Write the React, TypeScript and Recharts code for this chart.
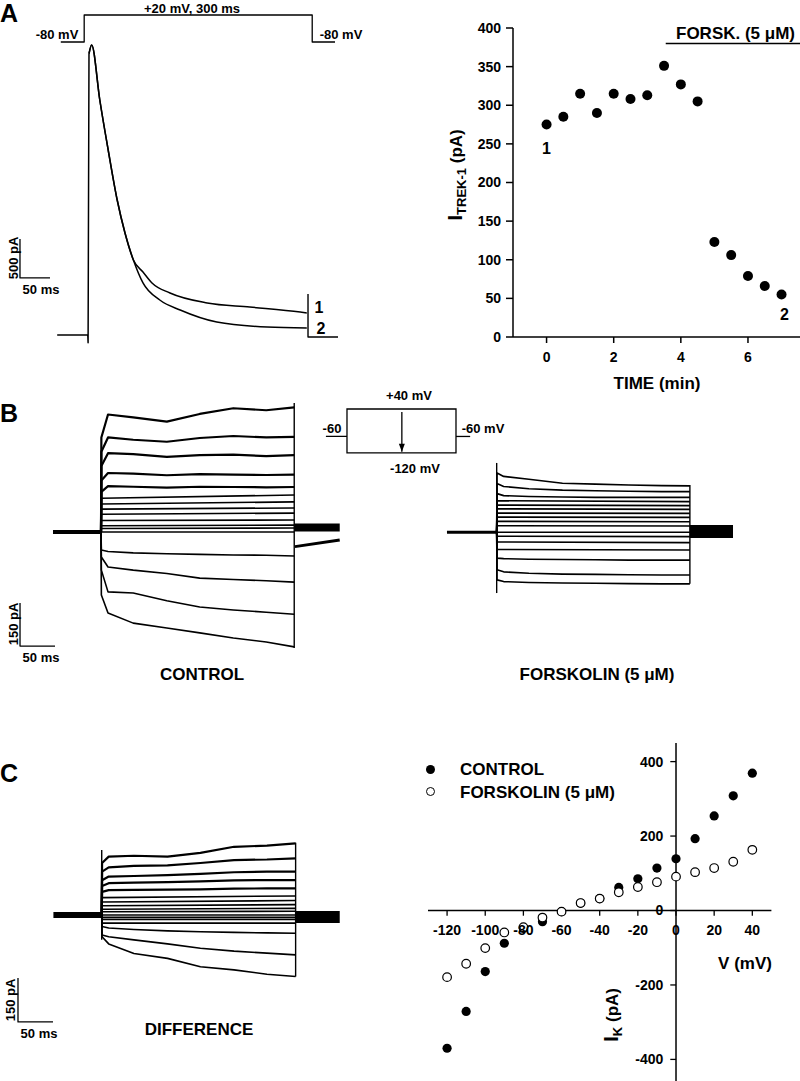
import type { ReactNode } from 'react';
import { Line, LineChart, ReferenceLine, Scatter, ScatterChart, XAxis, YAxis } from 'recharts';

const FONT = "'Liberation Sans', Arial, Helvetica, sans-serif";
const INK = '#000';

// A, left: current at +20 mV (ms, pA), sweep 1 = control, sweep 2 = forskolin
const A_ONSET_T = [-53, -2, -1.5, 0];
const A_ONSET_I = [0, 0, -100, 3600];
const A_PEAK_T = [0, 4.5, 18, 32, 47, 60, 74];
const A_PEAK_I = [3600, 3712, 3008, 2368, 1728, 1306, 960];
const A_SWEEP1_T = [90, 105, 135, 197, 268, 352, 363];
const A_SWEEP1_I = [806, 666, 538, 410, 358, 294, 282];
const A_SWEEP2_T = [90, 118, 152, 213, 297, 363];
const A_SWEEP2_I = [666, 448, 320, 166, 102, 90];
const A_END_T = [365, 365, 415];
const A_END_I = [525, -25, -25];
const A_STEP_T = [-47, -8, -8, 372, 372, 410];
const A_STEP_MV = [-80, -80, 20, 20, -80, -80];
const A_BAR_T = [-115, -115, -65];
const A_BAR_I = [1230, 730, 730];

// A, right: TREK-1 current over time
const TIME_MIN = [0, 0.5, 1, 1.5, 2, 2.5, 3, 3.5, 4, 4.5, 5, 5.5, 6, 6.5, 7];
const I_TREK = [275, 285, 315, 290, 315, 308, 313, 351, 327, 305, 123, 106, 79, 66, 55];
const TREK_TAGS = ['1', '', '', '', '', '', '', '', '', '', '', '', '', '', '2'];
const TIME_TICKS = [0, 2, 4, 6];
const TREK_TICKS = [0, 50, 100, 150, 200, 250, 300, 350, 400];
const FORSK_BAR_T = [3.55, 7.55];
const FORSK_BAR_I = 380;

// B: step family -120..+40 mV from -60 mV (ms, pA)
const B_T = [0.5, 10, 46, 94, 141, 189, 236, 276];
const B_T2 = [0.5, 276];
const CONTROL_SWEEPS = [
    [330, 410, 400, 385, 412, 432, 425, 435],
    [280, 330, 322, 315, 328, 335, 330, 332],
    [230, 275, 272, 262, 268, 270, 265, 268],
    [180, 206, 204, 198, 202, 200, 199, 200],
    [140, 160, 158, 155, 158, 157, 156, 157],
    [118, 129],
    [98, 105],
    [80, 84],
    [62, 66],
    [40, 42],
    [22, 24],
    [12, 14],
    [0, 0],
    [-63, -68, -73, -76, -78, -80, -81, -84],
    [-87, -122, -133, -145, -161, -166, -170, -175],
    [-133, -209, -213, -240, -262, -272, -280, -287],
    [-220, -283, -318, -335, -352, -370, -384, -401]
];
const FORSK_SWEEPS = [
    [207, 195, 185, 171, 168, 165, 163, 162],
    [170, 160, 152, 147, 145, 143, 142, 142],
    [135, 128, 125, 123, 122, 122, 122, 122],
    [110, 107],
    [95, 93],
    [82, 80],
    [67, 66],
    [53, 52],
    [38, 37],
    [23, 22],
    [0, 0],
    [-14, -15],
    [-34, -36],
    [-60, -62],
    [-90, -92, -94, -95, -96, -97, -97, -97],
    [-131, -138, -143, -146, -147, -148, -149, -149],
    [-166, -172, -175, -177, -178, -179, -180, -180]
];
const C_T = [0.5, 10, 46, 94, 141, 189, 236, 277];
const C_T2 = [0.5, 277];
const DIFF_SWEEPS = [
    [180, 202, 205, 202, 215, 236, 240, 248],
    [150, 165, 170, 172, 180, 190, 192, 196],
    [120, 133, 135, 138, 142, 148, 150, 150],
    [100, 110, 112, 114, 116, 120, 121, 121],
    [80, 86, 87, 88, 89, 91, 92, 92],
    [60, 66],
    [45, 50],
    [32, 36],
    [20, 23],
    [11, 13],
    [0, 0],
    [-8, -8],
    [-15, -15],
    [-28, -28],
    [-40, -45, -50, -55, -58, -60, -62, -63],
    [-69, -75, -86, -100, -115, -125, -132, -138],
    [-75, -100, -133, -150, -179, -190, -205, -213]
];

// B protocol box (ms, mV)
const BOX_T = [-58, 0, 0, 300, 300, 0, 0];
const BOX_MV = [-60, -60, 40, 40, -120, -120, -60];
const STUB_T = [300, 339];
const STUB_MV = [-60, -60];
const ARROW_T = [151, 151];
const ARROW_MV = [29, -116];

// C, right: I-V
const IV_V = [-120, -110, -100, -90, -80, -70, -60, -50, -40, -30, -20, -10, 0, 10, 20, 30, 40];
const IV_CONTROL = [-370, -271, -164, -88, -48, -30, -3, 20, 32, 62, 85, 114, 139, 193, 254, 308, 369];
const IV_FORSK = [-179, -143, -101, -59, -45, -19, -3, 20, 32, 49, 63, 76, 91, 103, 114, 131, 163];
const IV_X_TICKS = [-120, -100, -80, -60, -40, -20, 0, 20, 40];
const IV_Y_TICKS = [-400, -200, 0, 200, 400];

type Pt = { t: number; v: number };
type Series = { pts: Pt[]; w?: number; axis?: string; smooth?: boolean };

const zip = (ts: number[], vs: number[]): Pt[] => ts.map((t, i) => ({ t, v: vs[i] }));
const sweep = (levels: number[], full: number[], short: number[]): Pt[] => [
    { t: 0, v: 0 },
    ...zip(levels.length === 2 ? short : full, levels)
];

const Txt = ({
    x,
    y,
    size = 13,
    anchor = 'middle',
    rotate = 0,
    children
}: {
    x: number;
    y: number;
    size?: number;
    anchor?: 'start' | 'middle';
    rotate?: number;
    children: ReactNode;
}) => (
    <div
        style={{
            position: 'absolute',
            left: x,
            top: y,
            transform: `translate(${anchor === 'start' ? '0' : '-50%'}, -50%) rotate(${rotate}deg)`,
            fontSize: size,
            lineHeight: 1,
            whiteSpace: 'nowrap',
            fontWeight: 700
        }}
    >
        {children}
    </div>
);

const TraceChart = ({
    left,
    top,
    width,
    height,
    tDomain,
    iDomain,
    mvDomain,
    series
}: {
    left: number;
    top: number;
    width: number;
    height: number;
    tDomain: [number, number];
    iDomain: [number, number];
    mvDomain?: [number, number];
    series: Series[];
}) => (
    <div style={{ position: 'absolute', left, top }}>
        <LineChart width={width} height={height} margin={{ top: 0, right: 0, bottom: 0, left: 0 }}>
            <XAxis type='number' dataKey='t' domain={tDomain} hide allowDataOverflow />
            <YAxis yAxisId='i' type='number' domain={iDomain} hide allowDataOverflow />
            {mvDomain && <YAxis yAxisId='mv' type='number' domain={mvDomain} hide allowDataOverflow />}
            {series.map((s, k) => (
                <Line
                    key={k}
                    yAxisId={s.axis ?? 'i'}
                    data={s.pts}
                    dataKey='v'
                    type={s.smooth ? 'monotoneX' : 'linear'}
                    stroke={INK}
                    strokeWidth={s.w ?? 1.4}
                    strokeLinejoin='round'
                    dot={false}
                    activeDot={false}
                    isAnimationActive={false}
                />
            ))}
        </LineChart>
    </div>
);

const ArrowHead = (p: any) =>
    p.index === 1 ? (
        <path
            key={p.index}
            d={`M${p.cx - 3},${p.cy - 8} L${p.cx},${p.cy} L${p.cx + 3},${p.cy - 8} Z`}
            fill={INK}
        />
    ) : (
        <g key={p.index} />
    );

const ProtocolBox = () => (
    <div style={{ position: 'absolute', left: 310, top: 385 }}>
        <LineChart width={180} height={90} margin={{ top: 0, right: 0, bottom: 0, left: 0 }}>
            <XAxis type='number' dataKey='t' domain={[-101.8, 393.6]} hide allowDataOverflow />
            <YAxis type='number' domain={[-200.3, 127.3]} hide allowDataOverflow />
            <Line data={zip(BOX_T, BOX_MV)} dataKey='v' stroke={INK} strokeWidth={1.3} dot={false} isAnimationActive={false} />
            <Line data={zip(STUB_T, STUB_MV)} dataKey='v' stroke={INK} strokeWidth={1.3} dot={false} isAnimationActive={false} />
            <Line data={zip(ARROW_T, ARROW_MV)} dataKey='v' stroke={INK} strokeWidth={1.3} dot={ArrowHead} isAnimationActive={false} />
        </LineChart>
    </div>
);

const trekData = TIME_MIN.map((t, i) => ({ t, v: I_TREK[i], tag: TREK_TAGS[i] }));

const TrekDot = (p: any) => (
    <g>
        <circle cx={p.cx} cy={p.cy} r={5} fill={INK} />
        {p.payload?.tag === '1' && (
            <text x={p.cx} y={p.cy + 29} textAnchor='middle' fontSize={16} fontWeight={700} fill={INK}>
                1
            </text>
        )}
        {p.payload?.tag === '2' && (
            <text x={p.cx + 3} y={p.cy + 25} textAnchor='middle' fontSize={16} fontWeight={700} fill={INK}>
                2
            </text>
        )}
    </g>
);

const tickStyle = { fill: INK, fontSize: 14, fontWeight: 700 };
const axisStroke = { stroke: INK, strokeWidth: 1.5 };

const TrekChart = () => (
    <div style={{ position: 'absolute', left: 400, top: 0 }}>
        <ScatterChart width={400} height={400} margin={{ top: 28, right: 0, bottom: 23, left: 53 }}>
            <XAxis
                type='number'
                dataKey='t'
                domain={[-1, 7.55]}
                ticks={TIME_TICKS}
                allowDataOverflow
                height={40}
                tickSize={6}
                tickMargin={9}
                axisLine={axisStroke}
                tickLine={axisStroke}
                tick={tickStyle}
            />
            <YAxis
                type='number'
                dataKey='v'
                domain={[0, 400]}
                ticks={TREK_TICKS}
                allowDataOverflow
                width={60}
                tickSize={7}
                tickMargin={5}
                axisLine={axisStroke}
                tickLine={axisStroke}
                tick={tickStyle}
            />
            <ReferenceLine
                segment={[
                    { x: FORSK_BAR_T[0], y: FORSK_BAR_I },
                    { x: FORSK_BAR_T[1], y: FORSK_BAR_I }
                ]}
                stroke={INK}
                strokeWidth={1.6}
                ifOverflow='visible'
            />
            <Scatter data={trekData} shape={TrekDot} isAnimationActive={false} />
        </ScatterChart>
    </div>
);

const FilledDot = (p: any) => <circle cx={p.cx} cy={p.cy} r={4.6} fill={INK} />;
const OpenDot = (p: any) => <circle cx={p.cx} cy={p.cy} r={4.3} fill='#fff' stroke={INK} strokeWidth={1.2} />;

const IvChart = () => (
    <div style={{ position: 'absolute', left: 400, top: 740 }}>
        <ScatterChart width={400} height={341} margin={{ top: 3, right: 28.6, bottom: 0, left: 28 }}>
            <XAxis type='number' dataKey='x' domain={[-130, 50]} hide allowDataOverflow />
            <YAxis type='number' dataKey='y' domain={[-458, 450]} hide allowDataOverflow />
            <ReferenceLine x={0} stroke={INK} strokeWidth={1.5} />
            <ReferenceLine y={0} stroke={INK} strokeWidth={1.5} />
            {IV_X_TICKS.map((v) => (
                <ReferenceLine
                    key={`x${v}`}
                    segment={[
                        { x: v, y: 0 },
                        { x: v, y: -14 }
                    ]}
                    stroke={INK}
                    strokeWidth={1.3}
                    ifOverflow='visible'
                    label={{ value: String(v), position: 'bottom', offset: 9, ...tickStyle }}
                />
            ))}
            {IV_Y_TICKS.map((v) => (
                <ReferenceLine
                    key={`y${v}`}
                    segment={[
                        { x: 0, y: v },
                        { x: -3, y: v }
                    ]}
                    stroke={INK}
                    strokeWidth={1.3}
                    ifOverflow='visible'
                    label={{ value: String(v), position: 'left', offset: 7, ...tickStyle }}
                />
            ))}
            <Scatter data={IV_V.map((x, i) => ({ x, y: IV_CONTROL[i] }))} shape={FilledDot} isAnimationActive={false} />
            <Scatter data={IV_V.map((x, i) => ({ x, y: IV_FORSK[i] }))} shape={OpenDot} isAnimationActive={false} />
        </ScatterChart>
    </div>
);

// the large outward sweeps are the noisiest ones, so they read as heavier bands
const sweepWidth = (k: number) => (k < 5 ? 2.2 : 1.6);

const aSeries: Series[] = [
    { pts: zip(A_STEP_T, A_STEP_MV), axis: 'mv', w: 1.3 },
    { pts: zip(A_ONSET_T, A_ONSET_I), w: 1.5 },
    { pts: zip([...A_PEAK_T, ...A_SWEEP1_T], [...A_PEAK_I, ...A_SWEEP1_I]), w: 1.5, smooth: true },
    { pts: zip([...A_PEAK_T, ...A_SWEEP2_T], [...A_PEAK_I, ...A_SWEEP2_I]), w: 1.5, smooth: true },
    { pts: zip(A_END_T, A_END_I) },
    { pts: zip(A_BAR_T, A_BAR_I), w: 1.3 }
];

const controlSeries: Series[] = [
    { pts: zip([-68.6, 0], [0, 0]), w: 4 },
    ...CONTROL_SWEEPS.map((l, k) => ({ pts: sweep(l, B_T, B_T2), w: sweepWidth(k) })),
    { pts: zip([276, 276], [450, -405]) },
    { pts: zip([276, 341], [16, 16]), w: 8 },
    { pts: zip([277, 341], [-51, -28]), w: 3 },
    { pts: zip([-115.7, -115.7, -65.7], [-248, -398, -398]), w: 1.3 }
];

const forskSeries: Series[] = [
    { pts: zip([-71, 0], [0, 0]), w: 3 },
    ...FORSK_SWEEPS.map((l) => ({ pts: sweep(l, B_T, B_T2), w: 1.6 })),
    { pts: zip([0, 0], [242, -212]) },
    { pts: zip([276, 276], [165, -180]) },
    { pts: zip([276, 337.6], [3, 3]), w: 13 }
];

const diffSeries: Series[] = [
    { pts: zip([-69, 0], [0, 0]), w: 6 },
    ...DIFF_SWEEPS.map((l, k) => ({ pts: sweep(l, C_T, C_T2), w: sweepWidth(k) })),
    { pts: zip([0, 0], [225, -86]) },
    { pts: zip([277, 277], [250, -213]) },
    { pts: zip([277, 340], [-7, -7]), w: 12 },
    { pts: zip([-119.6, -119.6, -69.6], [-218, -370, -370]), w: 1.3 }
];

export default function App() {
    return (
        <div
            style={{
                position: 'absolute',
                left: 0,
                top: 0,
                width: 800,
                height: 1081,
                background: '#fff',
                color: INK,
                fontFamily: FONT,
                overflow: 'hidden'
            }}
        >
            <TraceChart
                left={0}
                top={0}
                width={400}
                height={360}
                tDomain={[-148.3, 518.3]}
                iDomain={[-320, 4288]}
                mvDomain={[-1257.8, 75.6]}
                series={aSeries}
            />
            <TrekChart />
            <TraceChart left={0} top={380} width={400} height={300} tDomain={[-144.3, 427.1]} iDomain={[-516.5, 530.5]} series={controlSeries} />
            <TraceChart left={400} top={380} width={400} height={300} tDomain={[-138.1, 433.3]} iDomain={[-515.5, 531.5]} series={forskSeries} />
            <ProtocolBox />
            <TraceChart left={0} top={800} width={400} height={250} tDomain={[-145.3, 426.1]} iDomain={[-467.1, 397.9]} series={diffSeries} />
            <IvChart />

            <Txt x={0} y={13} size={25} anchor='start'>A</Txt>
            <Txt x={192} y={7.5}>+20 mV, 300 ms</Txt>
            <Txt x={57} y={34}>-80 mV</Txt>
            <Txt x={341} y={34}>-80 mV</Txt>
            <Txt x={12.5} y={258} rotate={-90}>500 pA</Txt>
            <Txt x={41} y={289}>50 ms</Txt>
            <Txt x={319} y={307.5} size={16}>1</Txt>
            <Txt x={321} y={328.5} size={16}>2</Txt>
            <Txt x={735.5} y={33} size={17}>FORSK. (5 μM)</Txt>
            <Txt x={657} y={383} size={17}>TIME (min)</Txt>
            <Txt x={454} y={175} size={17} rotate={-90}>
                <span style={{ fontSize: 21 }}>I</span>
                <span style={{ fontSize: 13, position: 'relative', top: 4 }}>TREK-1</span> (pA)
            </Txt>

            <Txt x={0} y={413} size={25} anchor='start'>B</Txt>
            <Txt x={409} y={395}>+40 mV</Txt>
            <Txt x={332} y={428}>-60</Txt>
            <Txt x={483} y={428}>-60 mV</Txt>
            <Txt x={415} y={468}>-120 mV</Txt>
            <Txt x={12.5} y={624} rotate={-90}>150 pA</Txt>
            <Txt x={41} y={657}>50 ms</Txt>
            <Txt x={202} y={673.5} size={17}>CONTROL</Txt>
            <Txt x={597} y={673.5} size={17}>FORSKOLIN (5 μM)</Txt>

            <Txt x={0} y={772.5} size={25} anchor='start'>C</Txt>
            <Txt x={9.5} y={999.5} rotate={-90}>150 pA</Txt>
            <Txt x={39} y={1032.5}>50 ms</Txt>
            <Txt x={199} y={1028.5} size={17}>DIFFERENCE</Txt>
            <Txt x={745} y={962.5} size={17}>V (mV)</Txt>
            <Txt x={610} y={1015} size={17} rotate={-90}>
                <span style={{ fontSize: 21 }}>I</span>
                <span style={{ fontSize: 13, position: 'relative', top: 4 }}>K</span> (pA)
            </Txt>
            <div style={{ position: 'absolute', left: 426, top: 764.5, width: 9, height: 9, borderRadius: '50%', background: INK }} />
            <div
                style={{
                    position: 'absolute',
                    left: 426,
                    top: 787,
                    width: 7,
                    height: 7,
                    borderRadius: '50%',
                    border: `1.2px solid ${INK}`
                }}
            />
            <Txt x={460} y={769} size={17} anchor='start'>CONTROL</Txt>
            <Txt x={460} y={792} size={17} anchor='start'>FORSKOLIN (5 μM)</Txt>
        </div>
    );
}
